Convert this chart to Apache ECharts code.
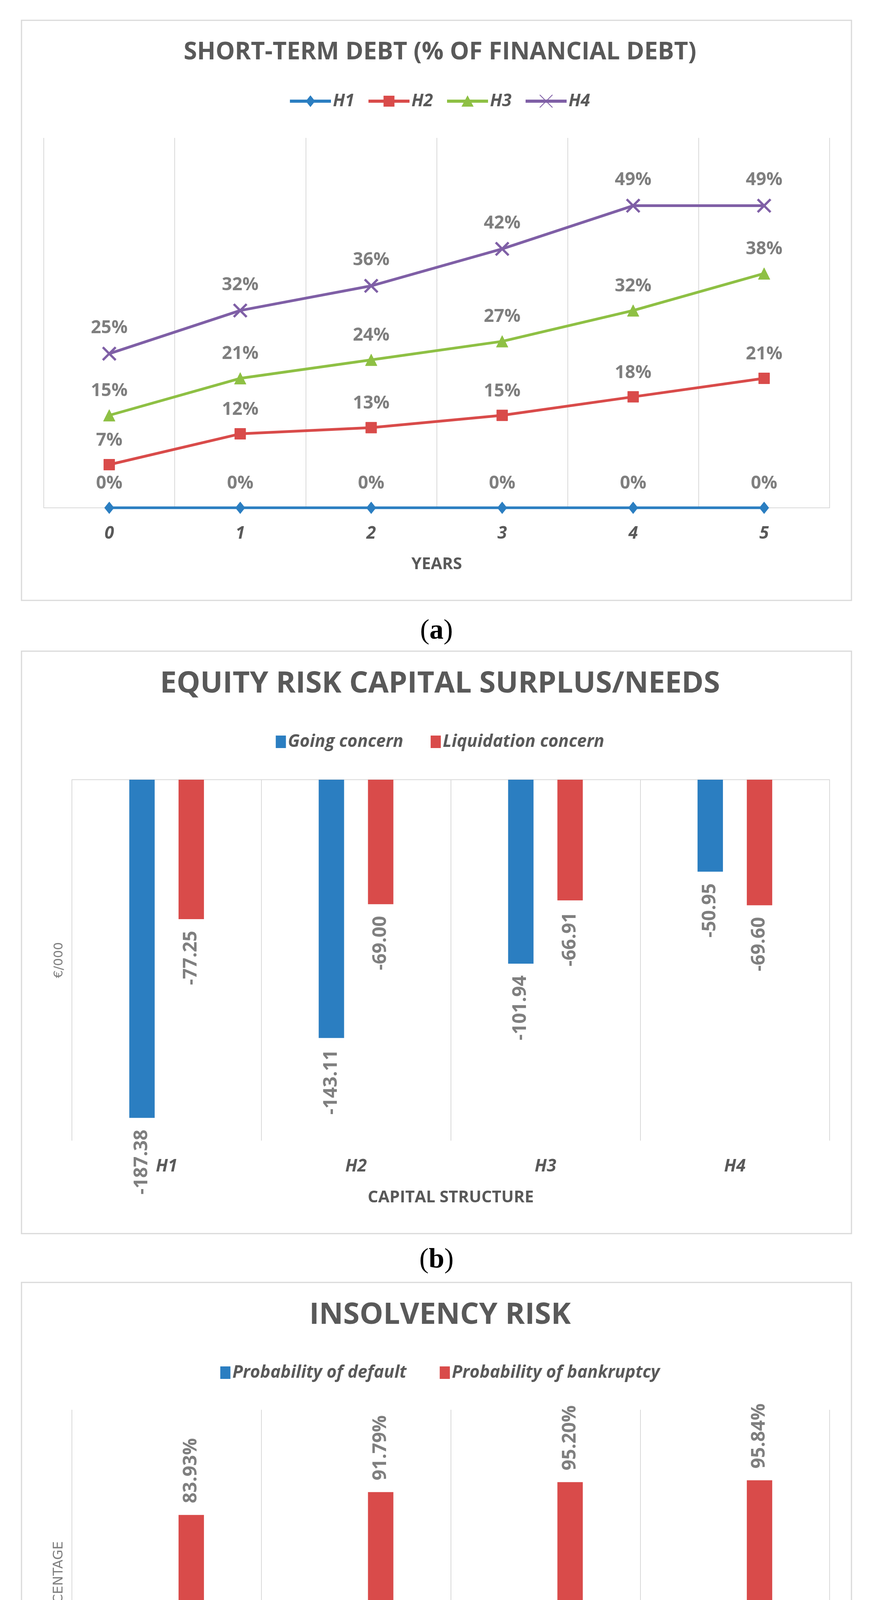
<!DOCTYPE html>
<html>
<head>
<meta charset="utf-8">
<script src="https://cdn.jsdelivr.net/npm/echarts@6/dist/echarts.min.js"></script>
<style>
html,body{margin:0;padding:0;background:#fff;}
#wrap{position:relative;width:2252px;height:4896px;background:#fff;overflow:hidden;}
.ch{position:absolute;left:0;width:2252px;}
</style>
</head>
<body>
<div id="wrap">
  <div id="ca" class="ch" style="top:0;height:1662px"></div>
  <div id="cb" class="ch" style="top:1662px;height:1608px"></div>
  <div id="cc" class="ch" style="top:3270px;height:1626px"></div>
</div>
<script>
// ---------- data ----------
const years = ['0', '1', '2', '3', '4', '5'];
const h1 = [0, 0, 0, 0, 0, 0];
const h2 = [7, 12, 13, 15, 18, 21];
const h3 = [15, 21, 24, 27, 32, 38];
const h4 = [25, 32, 36, 42, 49, 49];

const structures = ['H1', 'H2', 'H3', 'H4'];
const goingConcern = [-187.38, -143.11, -101.94, -50.95];
const liquidationConcern = [-77.25, -69.00, -66.91, -69.60];
const probDefault = [11.44, 9.55, 8.00, 6.39];
const probBankruptcy = [83.93, 91.79, 95.20, 95.84];

// ---------- styles ----------
const BLUE = '#2B7EC1', RED = '#D94B4A', GREEN = '#8EC044', PURPLE = '#7F5FA6';
const DARK = '#595959', LBL = '#7f7f7f', GRIDC = '#d9d9d9';
const SANS = 'Open Sans';
const crossPath = 'path://M0,1 L1,0 L10,9 L9,10 Z M9,0 L10,1 L1,10 L0,9 Z';

// legend keys (line + marker) drawn in a 105 x 34 box
const LINE_KEY = 'M0,13 L105,13 L105,21 L0,21 Z ';
const PAD_Y = ' M0,0 L0.01,0 L0.01,34 L0,34 Z';
const legendIcons = {
  H1: 'path://' + LINE_KEY + 'M52.5,2 L64.5,17 L52.5,32 L40.5,17 Z' + PAD_Y,
  H2: 'path://' + LINE_KEY + 'M38.5,3 L66.5,3 L66.5,31 L38.5,31 Z' + PAD_Y,
  H3: 'path://' + LINE_KEY + 'M52.5,2 L68,31 L37,31 Z' + PAD_Y,
  H4: 'path://' + LINE_KEY + 'M35.5,1.5 L37,0 L69.5,32.5 L68,34 Z M68,0 L69.5,1.5 L37,34 L35.5,32.5 Z'
};

const catLabel = { fontFamily: SANS, fontStyle: 'italic', fontWeight: 'bold', fontSize: 44, color: DARK, margin: 44 };
const axisNameStyle = { fontFamily: SANS, fontWeight: 'bold', fontSize: 42, color: DARK };
const legendText = { fontFamily: SANS, fontStyle: 'italic', fontWeight: 'bold', fontSize: 44, color: DARK };
const titleStyle = (s) => ({ fontFamily: SANS, fontWeight: 'bold', fontSize: s, color: DARK });
const splitL = { show: true, interval: 0, lineStyle: { color: GRIDC, width: 2 } };

function frame(y, h) {
  return { type: 'rect', silent: true, z: -10, shape: { x: 55, y, width: 2124, height: h },
    style: { fill: 'none', stroke: GRIDC, lineWidth: 3 } };
}
function caption(letter, y) {
  return { type: 'text', x: 1117, y, silent: true,
    style: { text: '({b|' + letter + '})', font: '72px "Liberation Serif"', fill: '#000',
      align: 'center', verticalAlign: 'middle',
      rich: { b: { fontFamily: 'Liberation Serif', fontSize: 72, fontWeight: 'bold', fill: '#000' } } } };
}

// ---------- (a) short-term debt ----------
const pointLabel = {
  show: true, position: 'top', distance: 24, formatter: '{c}%',
  fontFamily: SANS, fontWeight: 'bold', fontSize: 46, color: LBL
};
function lineSeries(name, data, color, symbol, size) {
  return {
    name, type: 'line', data, symbol, symbolSize: size, showAllSymbol: true,
    lineStyle: { width: 7, color }, itemStyle: { color, borderColor: color },
    label: pointLabel, emphasis: { disabled: true }
  };
}
const A0 = 0;
echarts.init(document.getElementById('ca')).setOption({
  backgroundColor: '#ffffff', animation: false,
  title: { text: 'SHORT-TERM DEBT (% OF FINANCIAL DEBT)', left: 'center', top: 98 - A0, textStyle: titleStyle(62) },
  legend: { data: ['H1', 'H2', 'H3', 'H4'].map(n => ({ name: n, icon: legendIcons[n] })),
    left: 'center', top: 232 - A0, itemWidth: 105, itemHeight: 34,
    itemGap: 36, textStyle: legendText, selectedMode: false },
  grid: { left: 112, right: 129, top: 353 - A0, height: 947 },
  xAxis: { type: 'category', data: years, boundaryGap: true,
    axisLine: { show: true, lineStyle: { color: GRIDC, width: 2 } }, axisTick: { show: false },
    splitLine: splitL, axisLabel: catLabel,
    name: 'YEARS', nameLocation: 'middle', nameGap: 124, nameTextStyle: axisNameStyle },
  yAxis: { type: 'value', min: 0, max: 60, show: false },
  series: [
    lineSeries('H1', h1, BLUE, 'diamond', [24, 30]),
    lineSeries('H2', h2, RED, 'rect', 28),
    lineSeries('H3', h3, GREEN, 'triangle', 30),
    lineSeries('H4', h4, PURPLE, crossPath, 36)
  ],
  graphic: [frame(52 - A0, 1485), caption('a', 1616 - A0)]
});

// ---------- (b) equity risk capital ----------
const B0 = 1662;
const barLabelB = {
  show: true, position: 'bottom', rotate: 90, align: 'right', verticalAlign: 'middle',
  distance: 30, fontFamily: SANS, fontWeight: 'bold', fontSize: 48, color: LBL,
  formatter: p => p.value.toFixed(2)
};
echarts.init(document.getElementById('cb')).setOption({
  backgroundColor: '#ffffff', animation: false,
  title: { text: 'EQUITY RISK CAPITAL SURPLUS/NEEDS', left: 'center', top: 1708 - B0, textStyle: titleStyle(76) },
  legend: { data: ['Going concern', 'Liquidation concern'], left: 'center', top: 1872 - B0, itemWidth: 26, itemHeight: 32,
    itemGap: 70, icon: 'rect', textStyle: legendText, selectedMode: false },
  grid: { left: 184, right: 129, top: 1996 - B0, height: 924 },
  xAxis: [
    { type: 'category', data: structures, position: 'bottom',
      axisLine: { show: false }, axisTick: { show: false }, splitLine: splitL, axisLabel: catLabel,
      name: 'CAPITAL STRUCTURE', nameLocation: 'middle', nameGap: 125, nameTextStyle: axisNameStyle },
    { type: 'category', data: structures, position: 'top',
      axisLine: { show: true, lineStyle: { color: GRIDC, width: 2 } }, axisTick: { show: false },
      axisLabel: { show: false }, splitLine: { show: false } }
  ],
  yAxis: { type: 'value', min: -200, max: 0,
    axisLine: { show: false }, axisTick: { show: false }, axisLabel: { show: false }, splitLine: { show: false },
    name: '€/000', nameLocation: 'middle', nameGap: 16,
    nameTextStyle: { fontFamily: 'DejaVu Sans', fontSize: 32, color: LBL } },
  series: [
    { name: 'Going concern', type: 'bar', data: goingConcern, xAxisIndex: 0,
      barWidth: 65, barGap: '94%', itemStyle: { color: BLUE }, label: barLabelB },
    { name: 'Liquidation concern', type: 'bar', data: liquidationConcern, xAxisIndex: 0,
      barWidth: 65, barGap: '94%', itemStyle: { color: RED }, label: barLabelB }
  ],
  graphic: [frame(1667 - B0, 1491), caption('b', 3226 - B0)]
});

// ---------- (c) insolvency risk ----------
const C0 = 3270;
const barLabelC = {
  show: true, position: 'top', rotate: 90, align: 'left', verticalAlign: 'middle',
  distance: 30, fontFamily: SANS, fontWeight: 'bold', fontSize: 48, color: LBL,
  formatter: p => p.value.toFixed(2) + '%'
};
echarts.init(document.getElementById('cc')).setOption({
  backgroundColor: '#ffffff', animation: false,
  title: { text: 'INSOLVENCY RISK', left: 'center', top: 3324 - C0, textStyle: titleStyle(76) },
  legend: { data: ['Probability of default', 'Probability of bankruptcy'], left: 'center', top: 3487 - C0,
    itemWidth: 26, itemHeight: 32, itemGap: 85, icon: 'rect', textStyle: legendText, selectedMode: false },
  grid: { left: 184, right: 129, top: 3609 - C0, height: 896 },
  xAxis: { type: 'category', data: structures, position: 'bottom',
    axisLine: { show: true, lineStyle: { color: GRIDC, width: 2 } }, axisTick: { show: false },
    splitLine: splitL, axisLabel: catLabel,
    name: 'CAPITAL STRUCTURE', nameLocation: 'middle', nameGap: 121, nameTextStyle: axisNameStyle },
  yAxis: { type: 'value', min: 0, max: 120,
    axisLine: { show: false }, axisTick: { show: false }, axisLabel: { show: false }, splitLine: { show: false },
    name: 'PERCENTAGE', nameLocation: 'middle', nameGap: 16,
    nameTextStyle: { fontFamily: 'DejaVu Sans', fontSize: 34, color: LBL } },
  series: [
    { name: 'Probability of default', type: 'bar', data: probDefault,
      barWidth: 65, barGap: '94%', itemStyle: { color: BLUE }, label: barLabelC },
    { name: 'Probability of bankruptcy', type: 'bar', data: probBankruptcy,
      barWidth: 65, barGap: '94%', itemStyle: { color: RED }, label: barLabelC }
  ],
  graphic: [frame(3283 - C0, 1460), caption('c', 4819 - C0)]
});
</script>
</body>
</html>
